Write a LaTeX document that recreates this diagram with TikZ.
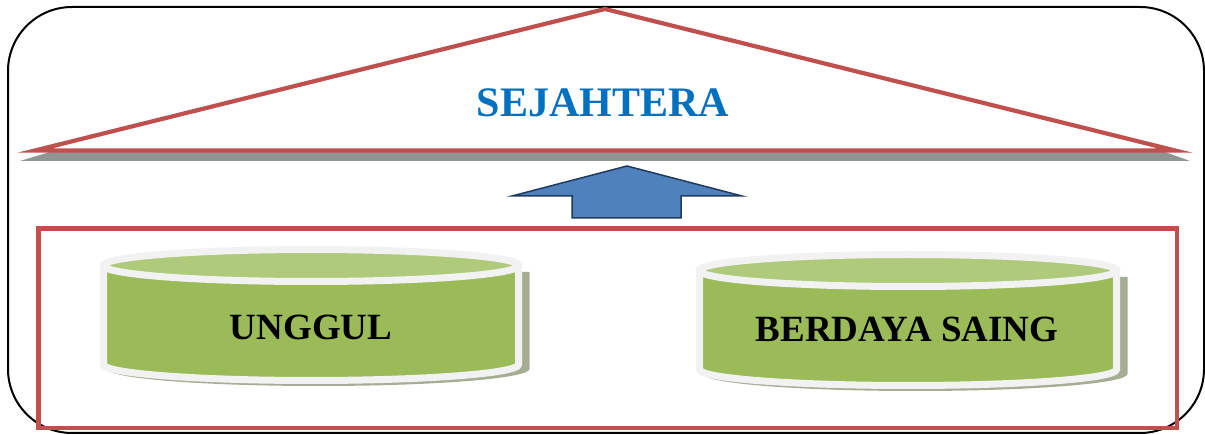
\documentclass[tikz,border=0pt]{standalone}
\usepackage{fontspec}
\setmainfont{Liberation Serif}
\begin{document}
\begin{tikzpicture}[x=1pt,y=-1pt,
  redline/.style={draw=redc,line width=4.2pt},
  bodyshape/.style={fill=bodyg,draw=rimw,line width=7pt},
  topshape/.style={fill=topg,draw=rimw,line width=7pt},
  shadowshape/.style={fill=shadowc,opacity=0.8},
  labeltext/.style={inner sep=0pt,anchor=base,font=\bfseries\fontsize{37}{40}\selectfont,text=black},
  titletext/.style={inner sep=0pt,anchor=base,font=\bfseries\fontsize{42}{46}\selectfont,text=titleblue}]
\definecolor{redc}{HTML}{C0504D}
\definecolor{bodyg}{HTML}{9BBB59}
\definecolor{topg}{HTML}{B0CA7C}
\definecolor{rimw}{HTML}{F2F2F2}
\definecolor{shadowc}{HTML}{8E9A78}
\definecolor{titleblue}{HTML}{0070C0}
\definecolor{arrowfill}{HTML}{4F81BD}
\definecolor{arrowdraw}{HTML}{1F3A60}
\useasboundingbox (0,0) rectangle (1205,435);
% outer frame
\draw[line width=2pt,rounded corners=64pt] (8,7) rectangle (1204,433);
% roof shadow
\fill[gray!85] (20,161) -- (50,152) -- (1165,152) -- (1190,161) -- cycle;
% roof
\draw[redline,line join=miter] (605,9) -- (1175,150.5) -- (35,150.5) -- cycle;
\node[titletext] (title) at (603,117) {SEJAHTERA};
% arrow
\draw[fill=arrowfill,draw=arrowdraw,line width=1.5pt,line join=miter]
  (627,166) -- (742,196) -- (681,196) -- (681,218) -- (572,218) -- (572,196) -- (512,196) -- cycle;
% red frame
\draw[redline] (38.5,228.5) rectangle (1177,428);
% left cylinder
\begin{scope}[shift={(311,0)}]
  \fill[shadowshape] (-203.5,272) -- (-203.5,369) arc[start angle=180,end angle=0,x radius=211,y radius=17] -- (218.5,272) -- cycle;
  \path[bodyshape] (-207.5,265.5) -- (-207.5,364.5) arc[start angle=180,end angle=0,x radius=207.5,y radius=16] -- (207.5,265.5) -- cycle;
  \path[topshape] (0,265.5) ellipse[x radius=207.5,y radius=16];
\end{scope}
\node[labeltext] (unggul) at (311,340) {UNGGUL};
% right cylinder
\begin{scope}[shift={(908,0)}]
  \fill[shadowshape] (-204.5,277) -- (-204.5,374) arc[start angle=180,end angle=0,x radius=212,y radius=17] -- (219.5,277) -- cycle;
  \path[bodyshape] (-208.5,270.5) -- (-208.5,369.5) arc[start angle=180,end angle=0,x radius=208.5,y radius=16] -- (208.5,270.5) -- cycle;
  \path[topshape] (0,270.5) ellipse[x radius=208.5,y radius=16];
\end{scope}
\node[labeltext] (saing) at (907,342) {BERDAYA SAING};
\end{tikzpicture}
\end{document}
